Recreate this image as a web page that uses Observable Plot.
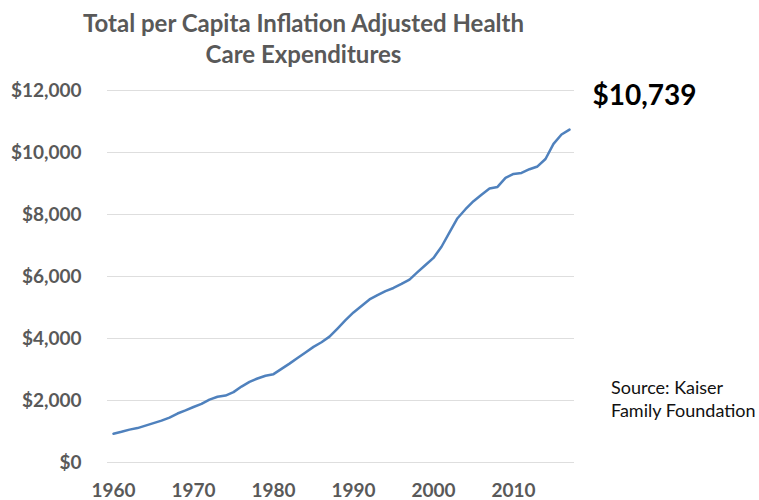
<!DOCTYPE html>
<html>
<head>
<meta charset="utf-8">
<script src="https://cdn.jsdelivr.net/npm/d3@7"></script>
<script src="https://cdn.jsdelivr.net/npm/@observablehq/plot@0.6"></script>
<style>
  body { margin: 0; background: #fff; }
  #wrap { position: relative; width: 759px; height: 500px; font-family: Lato, "Open Sans", sans-serif; }
  #chart { position: absolute; left: 0; top: 0; }
  .title { position: absolute; left: 0; top: 7px; width: 607px; text-align: center; font-weight: 700;
           font-size: 24px; line-height: 31px; color: #595959; }
  .source { position: absolute; left: 611px; top: 376px; font-size: 18px; line-height: 23px; color: #111; }
</style>
</head>
<body>
<div id="wrap">
  <div id="chart"></div>
  <div class="title">Total per Capita Inflation Adjusted Health<br>Care Expenditures</div>
  <div class="source">Source: Kaiser<br>Family Foundation</div>
</div>
<script>
const years = [1960,1961,1962,1963,1964,1965,1966,1967,1968,1969,
               1970,1971,1972,1973,1974,1975,1976,1977,1978,1979,
               1980,1981,1982,1983,1984,1985,1986,1987,1988,1989,
               1990,1991,1992,1993,1994,1995,1996,1997,1998,1999,
               2000,2001,2002,2003,2004,2005,2006,2007,2008,2009,
               2010,2011,2012,2013,2014,2015,2016,2017];
const spending = [930,990,1060,1110,1190,1270,1350,1450,1580,1680,
                  1790,1890,2030,2120,2160,2270,2450,2600,2710,2800,
                  2850,3020,3190,3370,3550,3730,3880,4060,4320,4590,
                  4840,5050,5260,5400,5530,5630,5760,5900,6140,6370,
                  6600,6960,7420,7880,8170,8430,8640,8840,8890,9180,
                  9310,9340,9460,9550,9790,10280,10580,10739];
const xTickYears = [1960,1970,1980,1990,2000,2010];
const yTicks = [0,2000,4000,6000,8000,10000,12000];

const data = years.map((year, i) => ({year, value: spending[i]}));
const last = data[data.length - 1];
const dollars = d => "$" + d3.format(",")(d);

const chart = Plot.plot({
  width: 759,
  height: 500,
  marginLeft: 107,
  marginRight: 185,
  marginTop: 90,
  marginBottom: 38,
  style: { fontFamily: "Lato, 'Open Sans', sans-serif", background: "#fff", overflow: "visible" },
  x: { type: "point", domain: years, padding: 0.5 },
  y: { domain: [0, 12000] },
  marks: [
    Plot.gridY(yTicks, { stroke: "#dedede", strokeOpacity: 1, strokeWidth: 1 }),
    Plot.axisY(yTicks, { tickSize: 0, tickPadding: 26, tickFormat: dollars,
                          fontSize: 19, fontWeight: "bold", fill: "#595959", label: null }),
    Plot.axisX(xTickYears, { tickSize: 0, tickPadding: 21, tickFormat: d => String(d),
                          fontSize: 19, fontWeight: "bold", fill: "#595959", label: null }),
    Plot.line(data, { x: "year", y: "value", stroke: "#4F81BD", strokeWidth: 2.5 }),
    Plot.text([last], { frameAnchor: "top-right", dx: 18, dy: 6, textAnchor: "start",
                        lineAnchor: "middle", text: d => dollars(d.value),
                        fontSize: 28, fontWeight: "bold", fill: "#000" })
  ]
});
document.getElementById("chart").append(chart);
</script>
</body>
</html>
